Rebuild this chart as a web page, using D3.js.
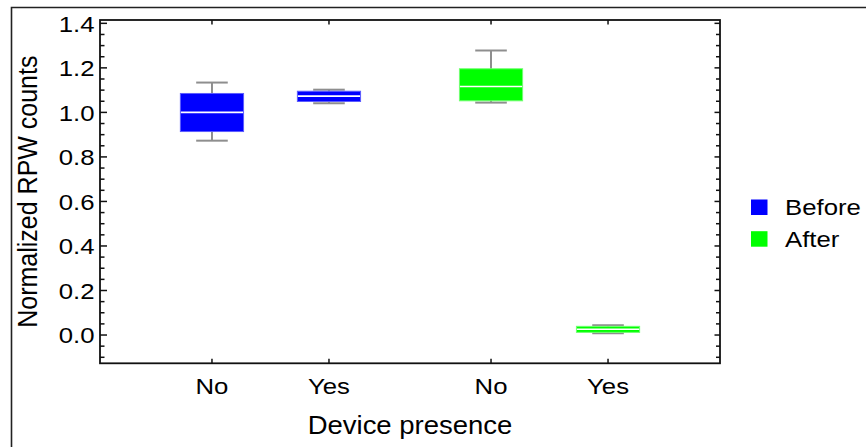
<!DOCTYPE html>
<html><head><meta charset="utf-8">
<script src="https://cdn.jsdelivr.net/npm/d3@7"></script>
<style>
html,body{margin:0;padding:0;background:#fff;}
svg{display:block;font-family:"Liberation Sans",Arial,Helvetica,sans-serif;}
</style></head>
<body><svg id="chart" width="866" height="447"></svg>
<script>
// ---- data ----
const categories = ["No", "Yes"];
const series = ["Before", "After"];
// [lower whisker, Q1, median, Q3, upper whisker] per category
const beforeStats = [
  [0.873, 0.914, 1.000, 1.085, 1.134],
  [1.041, 1.049, 1.073, 1.095, 1.102]
];
const afterStats = [
  [1.044, 1.052, 1.116, 1.196, 1.278],
  [0.008, 0.012, 0.026, 0.039, 0.044]
];
const yTicks = [0.0, 0.2, 0.4, 0.6, 0.8, 1.0, 1.2, 1.4];
const xLabel = "Device presence";
const yLabel = "Normalized RPW counts";

// ---- layout ----
const svg = d3.select("#chart");
const L = 100, R = 720, T = 20, B = 363.3;
const colors = {Before: "#0000ff", After: "#00ff00"};
const strokes = {Before: "#5c5cff", After: "#70ff70"};
const SX = 1.12; // horizontal glyph stretch
const FS = 23;
const groupGap = 1.385, boxW = 0.54;

const x = d3.scaleLinear().domain([-0.957, 4.342]).range([L, R]);
const y = d3.scaleLinear().domain([-0.127, 1.415]).range([B, T]);

const boxes = [];
series.forEach((s, gi) => {
  const st = s === "Before" ? beforeStats : afterStats;
  categories.forEach((c, ci) => {
    boxes.push({series: s, cat: c, pos: gi * (1 + groupGap) + ci, v: st[ci]});
  });
});

// outer frame (top and left edges only)
svg.append("path").attr("d", `M11.5,447 V7.5 H866`).attr("fill", "none")
  .attr("stroke", "#222").attr("stroke-width", 1.6);

const g = svg.append("g");

// whiskers
boxes.forEach(b => {
  const cx = x(b.pos), hw = (x(boxW) - x(0)) / 2, cw = hw / 2;
  g.append("line").attr("x1", cx).attr("x2", cx).attr("y1", y(b.v[0])).attr("y2", y(b.v[4]))
    .attr("stroke", "#8e8e8e").attr("stroke-width", 2);
  [b.v[0], b.v[4]].forEach(v => {
    g.append("line").attr("x1", cx - cw).attr("x2", cx + cw).attr("y1", y(v)).attr("y2", y(v))
      .attr("stroke", "#8e8e8e").attr("stroke-width", 2);
  });
});
// boxes
boxes.forEach(b => {
  const cx = x(b.pos), hw = (x(boxW) - x(0)) / 2;
  g.append("rect").attr("x", cx - hw).attr("width", 2 * hw)
    .attr("y", y(b.v[3])).attr("height", y(b.v[1]) - y(b.v[3]))
    .attr("fill", colors[b.series]).attr("stroke", strokes[b.series]).attr("stroke-width", 1);
  g.append("line").attr("x1", cx - hw + 0.5).attr("x2", cx + hw - 0.5)
    .attr("y1", y(b.v[2])).attr("y2", y(b.v[2]))
    .attr("stroke", "#fff").attr("stroke-width", 1.6);
});

// axes frame
svg.append("rect").attr("x", L).attr("y", T).attr("width", R - L).attr("height", B - T)
  .attr("fill", "none").attr("stroke", "#111").attr("stroke-width", 1.8);

// y ticks (left and right, inward)
const minor = d3.range(-0.10, 1.4001, 0.05).map(v => Math.round(v * 100) / 100);
minor.forEach(v => {
  const major = yTicks.some(t => Math.abs(t - v) < 1e-6);
  const len = major ? 7 : 4.5;
  svg.append("line").attr("x1", L).attr("x2", L + len).attr("y1", y(v)).attr("y2", y(v))
    .attr("stroke", "#111").attr("stroke-width", 1.5);
  svg.append("line").attr("x1", R).attr("x2", R - (major ? 5.5 : 4)).attr("y1", y(v)).attr("y2", y(v))
    .attr("stroke", "#111").attr("stroke-width", 1.5);
});
yTicks.forEach(v => {
  svg.append("text").attr("transform", `translate(94.5,${y(v)}) scale(${SX},1)`)
    .attr("text-anchor", "end").attr("dy", "0.36em")
    .attr("font-size", FS).attr("fill", "#000").text(d3.format(".1f")(v));
});

// x ticks (top and bottom, inward) + labels
boxes.forEach(b => {
  const cx = x(b.pos);
  svg.append("line").attr("x1", cx).attr("x2", cx).attr("y1", B).attr("y2", B - 4.5)
    .attr("stroke", "#111").attr("stroke-width", 1.5);
  svg.append("line").attr("x1", cx).attr("x2", cx).attr("y1", T).attr("y2", T + 4.5)
    .attr("stroke", "#111").attr("stroke-width", 1.5);
  svg.append("text").attr("transform", `translate(${cx},393.5) scale(${SX},1)`)
    .attr("text-anchor", "middle").attr("font-size", FS).attr("fill", "#000").text(b.cat);
});

// axis labels
svg.append("text").attr("transform", `translate(${(L + R) / 2},433.5) scale(1.1,1)`)
  .attr("text-anchor", "middle").attr("font-size", 25).attr("fill", "#000").text(xLabel);
svg.append("text").attr("transform", `translate(37,${(T + B) / 2}) rotate(-90) scale(1,${SX})`)
  .attr("text-anchor", "middle").attr("font-size", 25).attr("fill", "#000").text(yLabel);

// legend
series.forEach((s, i) => {
  const yy = 199.5 + i * 31.7;
  svg.append("rect").attr("x", 751).attr("y", yy).attr("width", 16.5).attr("height", 15.5)
    .attr("fill", colors[s]);
  svg.append("text").attr("transform", `translate(785,${yy + 15.5}) scale(${SX},1)`)
    .attr("font-size", FS).attr("fill", "#000").text(s);
});
</script></body></html>
